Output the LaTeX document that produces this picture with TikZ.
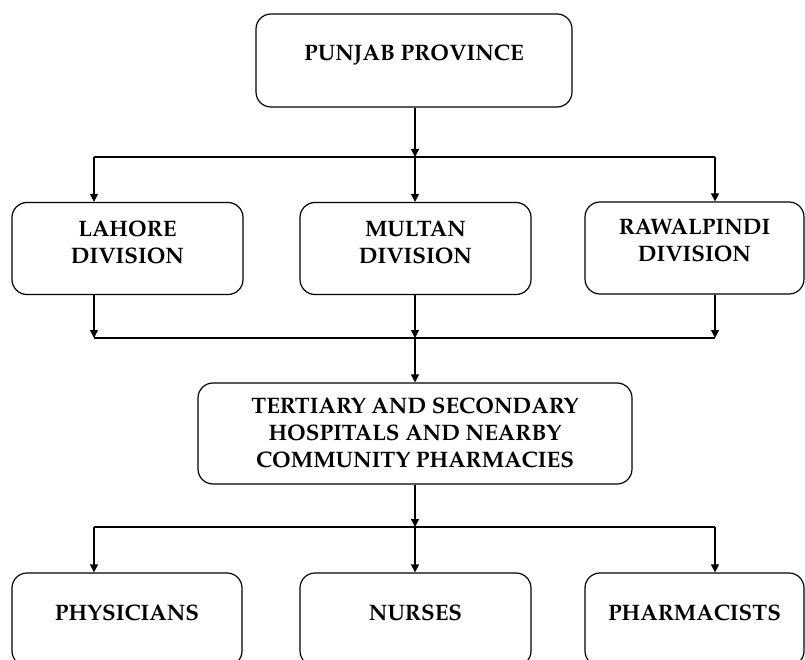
\documentclass[tikz,border=0pt]{standalone}
\usepackage[T1]{fontenc}
\renewcommand{\rmdefault}{ppl}
\usetikzlibrary{arrows.meta}
\tikzset{
  box/.style={draw, line width=1.2pt, rounded corners=15pt,
    font=\fontsize{22.4}{27}\selectfont\bfseries, align=center,
    text height=15.5pt, inner sep=0pt},
  arr/.style={-{Triangle[length=8pt,width=8pt]}, line width=1.2pt},
  ln/.style={line width=1.2pt},
}
\begin{document}
\begin{tikzpicture}[x=1pt,y=-1pt]
\useasboundingbox (0,0) rectangle (805,660);
% boxes
\node[box, minimum width=316pt, minimum height=93pt, text depth=15pt] (punjab) at (414,60.5) {PUNJAB PROVINCE};
\node[box, minimum width=231pt, minimum height=92pt, text height=30.5pt, text depth=0pt] (lahore) at (127.5,248.5) {LAHORE\\DIVISION};
\node[box, minimum width=231pt, minimum height=92pt, text height=30.5pt, text depth=0pt] (multan) at (415.5,248.5) {MULTAN\\DIVISION};
\node[box, minimum width=219pt, minimum height=92pt, text height=27.5pt, text depth=0pt] (rawalpindi) at (694.5,248) {RAWALPINDI\\DIVISION};
\node[box, minimum width=434pt, minimum height=101pt, text height=68.5pt, text depth=0pt] (tertiary) at (415,433.5) {TERTIARY AND SECONDARY\\HOSPITALS AND NEARBY\\COMMUNITY PHARMACIES};
\node[box, minimum width=230pt, minimum height=93pt, text depth=13pt] (physicians) at (127,619.5) {PHYSICIANS};
\node[box, minimum width=231pt, minimum height=93pt, text depth=13pt] (nurses) at (415.5,619.5) {NURSES};
\node[box, minimum width=219pt, minimum height=93pt, text depth=13pt] (pharmacists) at (694.5,619.5) {PHARMACISTS};
% junction coordinates
\coordinate (h1l) at (94,157);
\coordinate (j1) at (415,157);
\coordinate (h1r) at (715,157);
\coordinate (h2l) at (94,338);
\coordinate (j2) at (415,338);
\coordinate (h2r) at (715,338);
\coordinate (h3l) at (94,527);
\coordinate (j3) at (415,527);
\coordinate (h3r) at (715,527);
% level 1
\draw[arr] (punjab.south -| j1) -- (j1);
\draw[ln] (h1l) -- (h1r);
\draw[arr] (h1l) -- (h1l |- lahore.north);
\draw[arr] (j1) -- (j1 |- multan.north);
\draw[arr] (h1r) -- (h1r |- rawalpindi.north);
% level 2
\draw[arr] (h2l |- lahore.south) -- (h2l);
\draw[arr] (j2 |- multan.south) -- (j2);
\draw[arr] (h2r |- rawalpindi.south) -- (h2r);
\draw[ln] (h2l) -- (h2r);
\draw[arr] (j2) -- (j2 |- tertiary.north);
% level 3
\draw[arr] (j3 |- tertiary.south) -- (j3);
\draw[ln] (h3l) -- (h3r);
\draw[arr] (h3l) -- (h3l |- physicians.north);
\draw[arr] (j3) -- (j3 |- nurses.north);
\draw[arr] (h3r) -- (h3r |- pharmacists.north);
\end{tikzpicture}
\end{document}
